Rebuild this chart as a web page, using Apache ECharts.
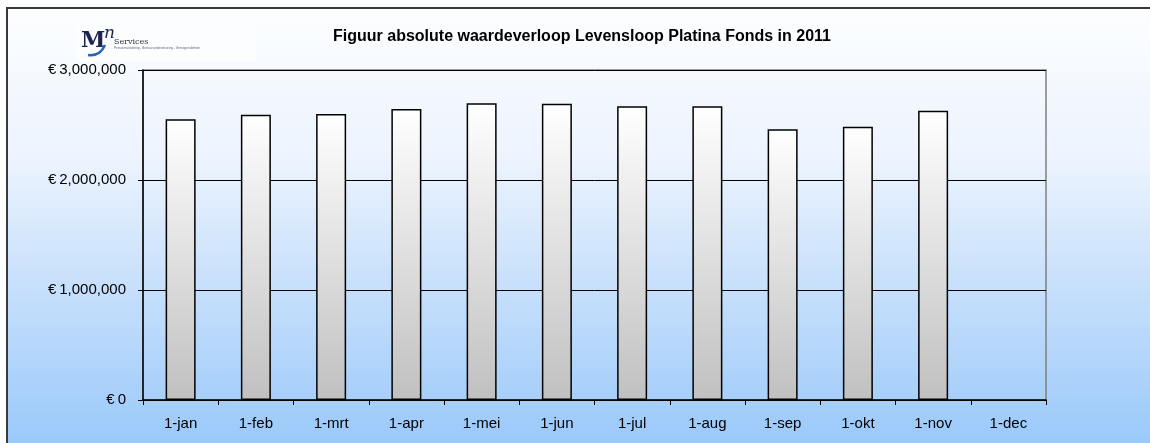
<!DOCTYPE html>
<html>
<head>
<meta charset="utf-8">
<title>Levensloop Platina Fonds 2011</title>
<script src="https://cdn.jsdelivr.net/npm/echarts@6/dist/echarts.min.js"></script>
<style>
  html, body { margin: 0; padding: 0; background: #fff; }
  #chart { width: 1150px; height: 443px; }
</style>
</head>
<body>
<div id="chart"></div>
<script>
// maanden (categorieen)
var months = ['1-jan', '1-feb', '1-mrt', '1-apr', '1-mei', '1-jun', '1-jul', '1-aug', '1-sep', '1-okt', '1-nov', '1-dec']
// waarde per maand, december nog leeg
var values = [2552000, 2594000, 2600000, 2645000, 2697000, 2694000, 2670000, 2670000, 2461000, 2485000, 2630000, null]
// y-as
var yMin = 0, yMax = 3000000, yStep = 1000000

var titleText = 'Figuur absolute waardeverloop Levensloop Platina Fonds in 2011'

// euro notatie: €3,000,000
function euro(v) {
  return '€\u2009' + String(v).replace(/\B(?=(\d{3})+(?!\d))/g, ',')
}

var myChart = echarts.init(document.getElementById('chart'))

var option = {
  animation: false,
  backgroundColor: {
    type: 'linear', x: 0, y: 0, x2: 0, y2: 1,
    colorStops: [
      { offset: 0, color: '#fdfeff' },
      { offset: 0.35, color: '#edf4fe' },
      { offset: 0.67, color: '#c4defb' },
      { offset: 1, color: '#9ac9fa' }
    ]
  },
  textStyle: { fontFamily: 'Liberation Sans, Arial, sans-serif' },
  title: {
    text: titleText,
    left: 577,
    textAlign: 'center',
    top: 24,
    textStyle: { fontSize: 16, fontWeight: 'bold', color: '#000' }
  },
  grid: {
    left: 143, right: 104, top: 70, bottom: 43,
    show: true,
    borderColor: '#808080',
    borderWidth: 1.5,
    backgroundColor: 'transparent'
  },
  xAxis: {
    type: 'category',
    data: months,
    boundaryGap: true,
    axisLine: { lineStyle: { color: '#000', width: 1.5 } },
    axisTick: { show: true, alignWithLabel: false, length: 5, lineStyle: { color: '#000' } },
    axisLabel: { fontSize: 15, color: '#000', margin: 16 }
  },
  yAxis: {
    type: 'value',
    min: yMin, max: yMax, interval: yStep,
    axisLine: { show: true, lineStyle: { color: '#000', width: 1.5 } },
    axisTick: { show: true, length: 5, lineStyle: { color: '#000' } },
    splitLine: { lineStyle: { color: '#000', width: 1 } },
    axisLabel: { fontSize: 15, color: '#000', margin: 17, formatter: euro }
  },
  series: [{
    type: 'bar',
    data: values,
    barWidth: 30,
    itemStyle: {
      color: {
        type: 'linear', x: 0, y: 0, x2: 0, y2: 1,
        colorStops: [
          { offset: 0, color: '#ffffff' },
          { offset: 1, color: '#c0c0c0' }
        ]
      },
      borderColor: '#000',
      borderWidth: 1.5
    }
  }],
  graphic: [
    // wit buiten het kader
    { type: 'rect', left: 0, top: 0, shape: { width: 1150, height: 8 }, style: { fill: '#fff' }, silent: true },
    { type: 'rect', left: 0, top: 0, shape: { width: 7, height: 443 }, style: { fill: '#fff' }, silent: true },
    // kader
    { type: 'rect', shape: { x: 7, y: 8, width: 1200, height: 500 }, style: { fill: 'none', stroke: '#3a3a3a', lineWidth: 2 }, silent: true },
    // logo MN Services
    { type: 'rect', shape: { x: 76, y: 22, width: 180, height: 40 }, style: { fill: '#fcfdff' }, silent: true },
    { type: 'text', x: 81, y: 30, style: { text: 'M', font: 'bold 22px "DejaVu Serif", serif', fill: '#1c2450' } },
    { type: 'text', x: 104, y: 25, style: { text: 'n', font: 'italic 17px "DejaVu Serif", serif', fill: '#1c2450' } },
    { type: 'bezierCurve', shape: { x1: 88, y1: 55, x2: 105, y2: 45, cpx1: 96, cpy1: 56, cpx2: 102, cpy2: 52 }, style: { stroke: '#2a63b8', lineWidth: 2.5, fill: 'none' } },
    { type: 'text', x: 114, y: 38, style: { text: 'Services', font: '8px "DejaVu Serif", serif', fill: '#333' } },
    { type: 'text', x: 114, y: 47, style: { text: 'Pensioenuitvoering - Bestuursondersteuning - Vermogensbeheer', font: '3px "Liberation Sans", sans-serif', fill: '#666' } }
  ]
}

myChart.setOption(option)
</script>
</body>
</html>
